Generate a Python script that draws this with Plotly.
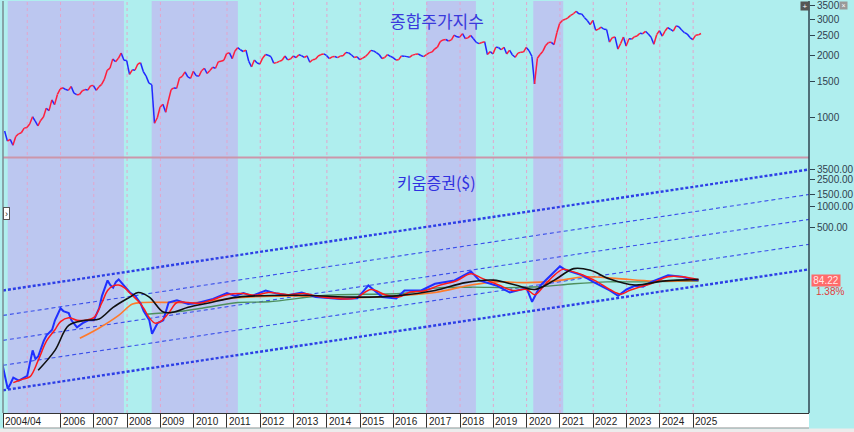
import math
import plotly.graph_objects as go

# ---------------- data ----------------
# KOSPI (종합주가지수) month-end values, 2004-04 .. 2025-03
kospi_values = [
    862, 770, 785, 735, 810, 835, 845, 890, 896,
    932, 1011, 965, 912, 970, 1008, 1112, 1083, 1221, 1158, 1298, 1379,
    1399, 1371, 1359, 1419, 1317, 1295, 1297, 1352, 1371, 1364, 1432, 1434,
    1360, 1417, 1453, 1542, 1701, 1743, 1933, 1873, 1946, 2064, 1906, 1897,
    1625, 1711, 1704, 1825, 1852, 1674, 1594, 1474, 1448, 940, 1000, 1124,
    1162, 1063, 1206, 1369, 1396, 1390, 1557, 1591, 1673, 1580, 1555, 1682,
    1602, 1594, 1692, 1741, 1641, 1698, 1759, 1742, 1872, 1883, 1904, 2051,
    2069, 1939, 2107, 2192, 2142, 2100, 2133, 1880, 1769, 1909, 1847, 1826,
    1955, 2030, 2014, 1982, 1843, 1854, 1881, 1905, 1996, 1912, 1932, 1997,
    1961, 2026, 2005, 1964, 2001, 1863, 1914, 1926, 1997, 2030, 2044, 2011,
    1941, 1980, 1985, 1961, 1995, 2002, 2076, 2068, 2020, 1964, 1981, 1916,
    1949, 1986, 2041, 2127, 2114, 2074, 2030, 1941, 1963, 2029, 1991, 1961,
    1912, 1917, 1996, 1994, 1983, 1970, 2016, 2034, 2043, 2008, 1983, 2026,
    2067, 2091, 2160, 2205, 2347, 2392, 2403, 2363, 2394, 2523, 2476, 2467,
    2566, 2427, 2446, 2515, 2423, 2326, 2295, 2323, 2343, 2030, 2097, 2041,
    2205, 2195, 2141, 2204, 2042, 2131, 2025, 1968, 2063, 2083, 2088, 2198,
    2119, 1987, 1460, 1948, 2030, 2108, 2249, 2326, 2328, 2267, 2591, 2873,
    2976, 3013, 3061, 3148, 3204, 3297, 3202, 3199, 3069, 2971, 2839, 2977,
    2663, 2699, 2757, 2695, 2686, 2333, 2452, 2472, 2155, 2293, 2473, 2236,
    2425, 2413, 2477, 2501, 2577, 2564, 2633, 2556, 2465, 2277, 2535, 2655,
    2497, 2642, 2747, 2692, 2636, 2798, 2770, 2674, 2593, 2556, 2456, 2399,
    2517, 2532, 2570,
]
kospi_dates = []
for yr in range(2004, 2026):
    for mo in range(1, 13):
        if (yr, mo) < (2004, 4) or (yr, mo) > (2025, 3):
            continue
        kospi_dates.append(f"{yr}-{mo:02d}-28")

# 키움증권 ($) price
kiwoom_dates = ["2004-04", "2004-06", "2004-07", "2004-08", "2004-10", "2005-01", "2005-03", "2005-04",
                "2005-05", "2005-07", "2005-08", "2005-10", "2005-11", "2006-01", "2006-02", "2006-04",
                "2006-05", "2006-07", "2006-09", "2006-11", "2007-01", "2007-03", "2007-04", "2007-06",
                "2007-07", "2007-08", "2007-09", "2007-10", "2007-12", "2008-02", "2008-04", "2008-06",
                "2008-07", "2008-09", "2008-10", "2008-12", "2009-02", "2009-04", "2009-07", "2009-11",
                "2010-02", "2010-08", "2011-01", "2011-04", "2011-07", "2011-10", "2012-03", "2012-07",
                "2012-11", "2013-04", "2013-09", "2014-03", "2014-06", "2014-12", "2015-04", "2015-09",
                "2016-02", "2016-05", "2016-11", "2017-04", "2017-11", "2018-05", "2018-08", "2019-02",
                "2019-07", "2020-01", "2020-03", "2020-06", "2020-09", "2021-01", "2021-03", "2021-06",
                "2021-09", "2022-01", "2022-07", "2022-10", "2023-01", "2023-04", "2023-07", "2023-10",
                "2024-04", "2024-09", "2025-01", "2025-03"]
kiwoom_values = [5.2, 2.2, 2.6, 3.2, 2.9, 3.4, 8.0, 6.0,
                 6.5, 11, 13.3, 16, 22, 33, 30, 28,
                 22, 17.4, 20, 22, 22, 33, 50, 84,
                 72, 66, 80, 87, 70, 56, 50, 38,
                 30, 22, 14, 20, 22, 40, 43, 38,
                 39, 45, 55, 50, 55, 50, 60, 54,
                 51, 56, 48, 46, 45, 46, 71, 48,
                 46, 60, 60, 75, 84, 114, 84, 71,
                 56, 65, 41, 71, 95, 135, 120, 110,
                 100, 80, 60, 50, 62, 70, 68, 80,
                 100, 95, 86, 84.22]

# moving averages
red_ma_dates = ["2004-08", "2004-11", "2005-02", "2005-05", "2005-08", "2005-11", "2006-01", "2006-04",
                "2006-07", "2006-10", "2007-01", "2007-04", "2007-06", "2007-08", "2007-10", "2007-12",
                "2008-02", "2008-05", "2008-07", "2008-09", "2008-11", "2009-01", "2009-04", "2009-07",
                "2009-11", "2010-03", "2010-08", "2011-01", "2011-07", "2011-11", "2012-04", "2012-11",
                "2013-05", "2013-10", "2014-04", "2014-11", "2015-05", "2015-10", "2016-03", "2016-07",
                "2016-12", "2017-05", "2017-12", "2018-05", "2018-09", "2019-03", "2019-08", "2020-01",
                "2020-04", "2020-07", "2020-10", "2021-02", "2021-05", "2021-09", "2022-02", "2022-07",
                "2022-11", "2023-02", "2023-06", "2023-10", "2024-04", "2024-09", "2025-03"]
red_ma_values = [2.7, 3.0, 3.3, 5.7, 11, 16, 21, 24,
                 22, 22, 24, 40, 60, 70, 72, 66,
                 55, 42, 33, 24, 20, 21, 28, 40,
                 40, 39, 44, 52, 54, 51, 56, 52,
                 54, 49, 46, 46, 62, 52, 48, 57,
                 59, 70, 84, 105, 90, 72, 60, 62,
                 52, 68, 92, 122, 115, 102, 82, 62,
                 53, 60, 68, 76, 95, 95, 86]

black_ma_dates = ["2005-05", "2005-11", "2006-04", "2006-10", "2007-03", "2007-08", "2008-02", "2008-05",
                  "2008-09", "2009-02", "2009-06", "2009-11", "2010-06", "2011-05", "2013-02", "2014-12",
                  "2016-02", "2017-04", "2018-03", "2019-01", "2019-09", "2020-04", "2020-11", "2021-06",
                  "2021-12", "2022-07", "2023-04", "2024-02", "2025-03"]
black_ma_values = [4.1, 8, 18.5, 22, 23, 34, 48, 56,
                   48, 29, 29, 34, 39, 48, 51, 48,
                   50, 60, 78, 85, 72, 62, 85, 125,
                   118, 88, 72, 82, 87]

orange_ma_dates = ["2006-08", "2007-03", "2007-10", "2008-03", "2008-07", "2009-06", "2010-02", "2011-05",
                   "2013-02", "2014-12", "2016-02", "2017-04", "2018-05", "2019-02", "2020-01", "2020-11",
                   "2021-10", "2022-09", "2023-11", "2025-03"]
orange_ma_values = [12, 17, 26, 38, 40, 40, 40, 47,
                    50, 47, 50, 56, 72, 80, 78, 82,
                    95, 90, 82, 84]

green_ma_dates = ["2008-08", "2009-06", "2010-04", "2011-05", "2012-04", "2014-01", "2016-06", "2017-04",
                  "2018-05", "2019-06", "2020-06", "2021-06", "2022-06", "2023-06", "2025-03"]
green_ma_values = [27, 29, 33, 40, 41, 51, 55, 65,
                   67, 66, 68, 75, 80, 80, 82]

# regression channel (start / end values of each parallel line)
channel_dates = ["2004-04-10", "2028-06-25"]
channel_lines = [[2.09, 122], [4.84, 283], [11.2, 655], [25.9, 1516], [60.0, 3508]]
channel_styles = ["heavy", "light", "light", "light", "heavy"]

# shaded periods
shade_periods = [("2004-06-01", "2007-11-28"), ("2008-09-27", "2011-05-01"),
                 ("2016-12-28", "2018-06-24"), ("2020-03-14", "2021-02-06")]

# x axis labels
xtick_dates = ["2004-04-10", "2006-01-01", "2007-01-01", "2008-01-01", "2009-01-01", "2010-01-01",
               "2011-01-01", "2012-01-01", "2013-01-01", "2014-01-01", "2015-01-01", "2016-01-01",
               "2017-01-01", "2018-01-01", "2019-01-01", "2020-01-01", "2021-01-01", "2022-01-01",
               "2023-01-01", "2024-01-01", "2025-01-01"]
xtick_labels = ["2004/04", "2006", "2007", "2008", "2009", "2010", "2011", "2012", "2013", "2014",
                "2015", "2016", "2017", "2018", "2019", "2020", "2021", "2022", "2023", "2024", "2025"]
grid_years = list(range(2005, 2026))

top_ticks = [1000, 1500, 2000, 2500, 3000, 3500]
bottom_ticks = [500, 1000, 1500, 2500, 3500]
last_price = 84.22
last_change = "1.38%"

# ---------------- figure ----------------
CYAN = "#AFEEEE"
LAV = "#BCC7F0"
fig = go.Figure()

# top panel: KOSPI, red on up moves, blue on down moves
rx, ry, bx, by = [], [], [], []
for i in range(len(kospi_values) - 1):
    seg_x = [kospi_dates[i], kospi_dates[i + 1], None]
    seg_y = [kospi_values[i], kospi_values[i + 1], None]
    if kospi_values[i + 1] >= kospi_values[i]:
        rx += seg_x; ry += seg_y
    else:
        bx += seg_x; by += seg_y
fig.add_trace(go.Scatter(x=bx, y=by, mode="lines", line=dict(color="#2028FF", width=1.5),
                         xaxis="x", yaxis="y2", hoverinfo="skip"))
fig.add_trace(go.Scatter(x=rx, y=ry, mode="lines", line=dict(color="#FF1E3C", width=1.5),
                         xaxis="x", yaxis="y2", hoverinfo="skip"))

# bottom panel: channel lines
for vals, sty in zip(channel_lines, channel_styles):
    if sty == "heavy":
        ln = dict(color="#2D3FE6", width=2.4, dash="3px,2px")
    else:
        ln = dict(color="#3A4FEA", width=1.1, dash="4px,3px")
    fig.add_trace(go.Scatter(x=channel_dates, y=vals, mode="lines", line=ln,
                             xaxis="x", yaxis="y", hoverinfo="skip"))

# moving averages and price
fig.add_trace(go.Scatter(x=green_ma_dates, y=green_ma_values, mode="lines",
                         line=dict(color="#4E8F5E", width=1.4, shape="spline"), xaxis="x", yaxis="y"))
fig.add_trace(go.Scatter(x=orange_ma_dates, y=orange_ma_values, mode="lines",
                         line=dict(color="#FF7A2A", width=1.6, shape="spline"), xaxis="x", yaxis="y"))
fig.add_trace(go.Scatter(x=kiwoom_dates, y=kiwoom_values, mode="lines",
                         line=dict(color="#2030FF", width=2), xaxis="x", yaxis="y"))
fig.add_trace(go.Scatter(x=red_ma_dates, y=red_ma_values, mode="lines",
                         line=dict(color="#FF1A1A", width=1.5, shape="spline"), xaxis="x", yaxis="y"))
fig.add_trace(go.Scatter(x=black_ma_dates, y=black_ma_values, mode="lines",
                         line=dict(color="#111111", width=1.6, shape="spline"), xaxis="x", yaxis="y"))

shapes = []
for s, e in shade_periods:
    shapes.append(dict(type="rect", xref="x", yref="paper", x0=s, x1=e, y0=0, y1=1,
                       fillcolor=LAV, line=dict(width=0), layer="below"))
for yr in grid_years:
    shapes.append(dict(type="line", xref="x", yref="paper", x0=f"{yr}-01-01", x1=f"{yr}-01-01",
                       y0=0, y1=1, line=dict(color="#E2A6CC", width=1, dash="dot"), layer="below"))
# panel separator
sep_y = (413 - 157) / 413
shapes.append(dict(type="line", xref="paper", yref="paper", x0=0, x1=1, y0=sep_y, y1=sep_y,
                   line=dict(color="#CC96AA", width=2)))
# right and left axis lines
shapes.append(dict(type="line", xref="paper", yref="paper", x0=1, x1=1, y0=0, y1=1,
                   line=dict(color="#2F4550", width=1.5)))
shapes.append(dict(type="line", xref="paper", yref="paper", x0=0, x1=0, y0=0, y1=1,
                   line=dict(color="#7A8A90", width=1.5)))
# white date strip
shapes.append(dict(type="rect", xref="paper", yref="paper", x0=0, x1=1, y0=-0.0363, y1=0,
                   fillcolor="white", line=dict(width=0), layer="below"))
shapes.append(dict(type="line", xref="paper", yref="paper", x0=0, x1=1, y0=-0.0363, y1=-0.0363,
                   line=dict(color="#999999", width=1)))
shapes.append(dict(type="rect", xref="paper", yref="paper", x0=-0.01, x1=1.06, y0=-0.0375, y1=-0.06,
                   fillcolor="#ECECEC", line=dict(width=0), layer="below"))

annotations = []
for d, t in zip(xtick_dates, xtick_labels):
    annotations.append(dict(x=d, y=-0.0215, xref="x", yref="paper", text=t, showarrow=False,
                            xanchor="left", yanchor="middle", xshift=0,
                            font=dict(family="Arial", size=10, color="#222222")))
annotations.append(dict(x=0.538, y=(413 - 20) / 413, xref="paper", yref="paper", text="종합주가지수",
                        showarrow=False, xanchor="center", yanchor="middle",
                        font=dict(family="Noto Sans CJK KR", size=17, color="#3A3ADC")))
annotations.append(dict(x=0.538, y=(413 - 181) / 413, xref="paper", yref="paper", text="키움증권($)",
                        showarrow=False, xanchor="center", yanchor="middle",
                        font=dict(family="Noto Sans CJK KR", size=16, color="#3030E0")))
annotations.append(dict(x=1, y=math.log10(last_price), xref="paper", yref="y", text=f"{last_price:.2f}",
                        showarrow=False, xanchor="left", yanchor="middle", xshift=2, bgcolor="#FF6A6A",
                        width=28, borderpad=0, font=dict(family="Arial", size=10, color="#FFE8E8")))
annotations.append(dict(x=1, y=math.log10(last_price), xref="paper", yref="y", text=last_change,
                        showarrow=False, xanchor="left", yanchor="middle", xshift=5, yshift=-11,
                        font=dict(family="Arial", size=10, color="#E03C3C")))
annotations.append(dict(x=(811 - 3) / 812, y=(413 - 5) / 413, xref="paper", yref="paper", text="+",
                        showarrow=False, xanchor="center", yanchor="middle", bgcolor="#555555",
                        borderpad=0, width=8, height=8,
                        font=dict(family="Arial", size=8, color="white")))
annotations.append(dict(x=(850 - 3) / 812, y=(413 - 5) / 413, xref="paper", yref="paper", text="×",
                        showarrow=False, xanchor="center", yanchor="middle", bgcolor="#999999",
                        borderpad=0, width=7, height=7,
                        font=dict(family="Arial", size=7, color="white")))
annotations.append(dict(x=0.004, y=(413 - 213) / 413, xref="paper", yref="paper", text="›",
                        showarrow=False, xanchor="center", yanchor="middle", bgcolor="white",
                        bordercolor="#555555", borderwidth=1, borderpad=0, width=5, height=11,
                        font=dict(family="Arial", size=9, color="#222")))

axis_font = dict(family="Arial", size=10, color="#2F3F4F")
fig.update_layout(
    width=854, height=432,
    margin=dict(l=3, r=39, t=0, b=19),
    paper_bgcolor=CYAN, plot_bgcolor="rgba(0,0,0,0)",
    showlegend=False,
    xaxis=dict(type="date", range=["2004-04-10", "2028-06-25"], anchor="y",
               showgrid=False, zeroline=False, showticklabels=False,
               tickvals=xtick_dates, ticks="outside", ticklen=14, tickwidth=1, tickcolor="#333333",
               showline=True, linecolor="#333333", linewidth=1),
    yaxis=dict(type="log", domain=[0, 0.6126], range=[-0.012, 3.675], side="right", anchor="x",
               tickvals=bottom_ticks, ticktext=[f"{v:.2f}" for v in bottom_ticks],
               ticks="outside", ticklen=5, tickcolor="#2F4550", showgrid=False, zeroline=False,
               showline=False, tickfont=axis_font, ticklabeloverflow="allow"),
    yaxis2=dict(type="log", domain=[0.6199, 1], range=[2.806, 3.568], side="right", anchor="x",
                tickvals=top_ticks, ticktext=[str(v) for v in top_ticks],
                ticks="outside", ticklen=5, tickcolor="#2F4550", showgrid=False, zeroline=False,
                showline=False, tickfont=axis_font, ticklabeloverflow="allow"),
    shapes=shapes,
    annotations=annotations,
)

fig.write_html("out.html", config={"displayModeBar": False},
               post_script="document.body.style.margin='0px';document.body.style.overflow='hidden';")
